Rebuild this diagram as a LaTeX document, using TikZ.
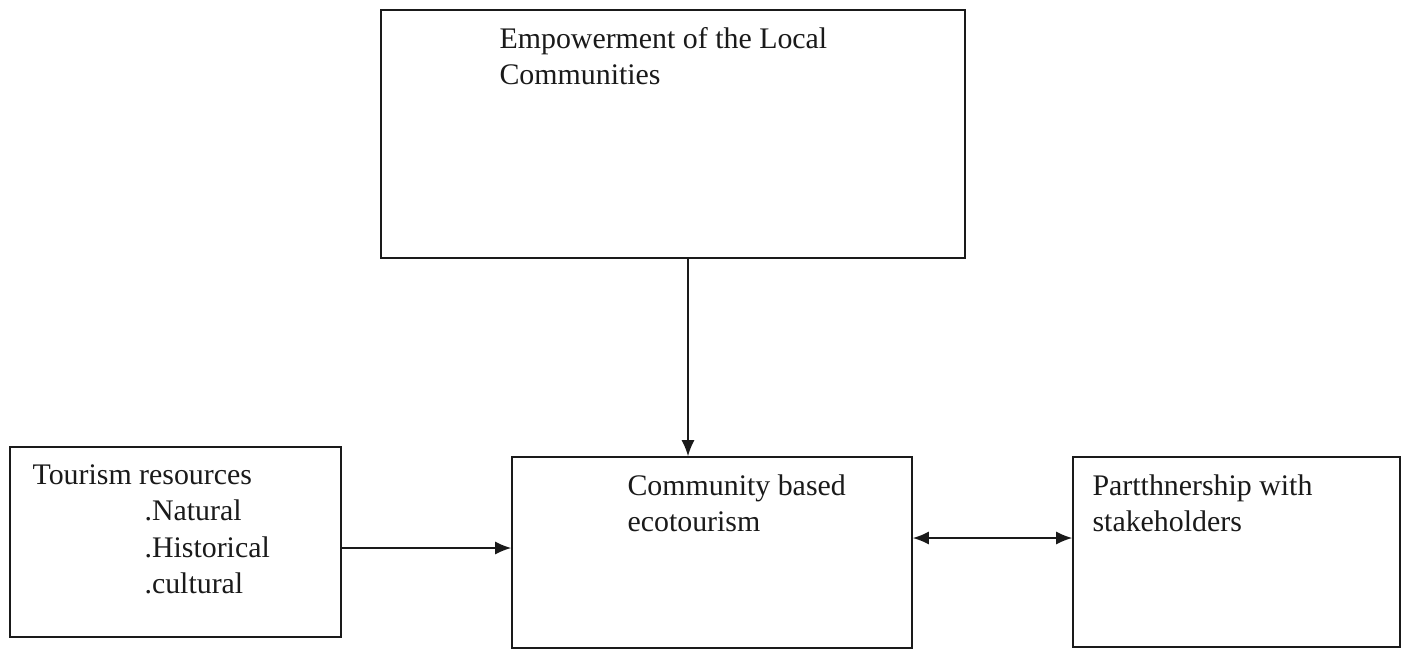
\documentclass[tikz,border=0pt]{standalone}
\usepackage{fontspec}
\setmainfont{Liberation Serif}
\usetikzlibrary{arrows.meta,positioning,calc}
\definecolor{EcoInk}{HTML}{1A1A1A}
\tikzset{
  ecotext/.style={font=\fontsize{17}{20.7}\selectfont, text=EcoInk, inner sep=0pt, anchor=north west, align=left},
  ecobox/.style={draw=EcoInk, line width=0.9pt, fill=white},
  ecoarrow/.style={-{Latex[length=0.32cm,width=0.26cm]}, line width=0.9pt, draw=EcoInk},
  ecolink/.style={{Latex[length=0.32cm,width=0.26cm]}-{Latex[length=0.32cm,width=0.26cm]}, line width=0.9pt, draw=EcoInk}
}

\begin{document}
\begin{tikzpicture}
\useasboundingbox (0,0) rectangle (28.18,-12.98);
% boxes
\node[ecobox, minimum width=11.68cm, minimum height=4.96cm] (emp) at (13.46,-2.68) {};
\node[ecobox, minimum width=8cm, minimum height=3.82cm] (cbe) at (14.24,-11.05) {};
\node[ecobox, minimum width=6.62cm, minimum height=3.8cm] (res) at (3.51,-10.84) {};
\node[ecobox, minimum width=6.54cm, minimum height=3.8cm] (part) at (24.73,-11.04) {};
% texts
\node[ecotext] (emptxt) at ([shift={(2.38,-0.36)}]emp.north west) {Empowerment of the Local\\Communities};
\node[ecotext] (cbetxt) at ([shift={(2.32,-0.36)}]cbe.north west) {Community based\\ecotourism};
\node[ecotext] (restxt) at ([shift={(0.46,-0.36)}]res.north west) {Tourism resources\\\hspace*{2.24cm}.Natural\\\hspace*{2.24cm}.Historical\\\hspace*{2.24cm}.cultural};
\node[ecotext] (parttxt) at ([shift={(0.4,-0.36)}]part.north west) {Partthnership with\\stakeholders};
% connectors
\draw[ecoarrow] ([xshift=0.3cm]emp.south) -- ([xshift=0.3cm]emp.south |- cbe.north);
\draw[ecoarrow] ([yshift=-0.12cm]res.east) -- ([yshift=-0.12cm]res.east -| cbe.west);
\draw[ecolink] ([yshift=0.29cm]cbe.east) -- ([yshift=0.29cm]cbe.east -| part.west);
\end{tikzpicture}
\end{document}
